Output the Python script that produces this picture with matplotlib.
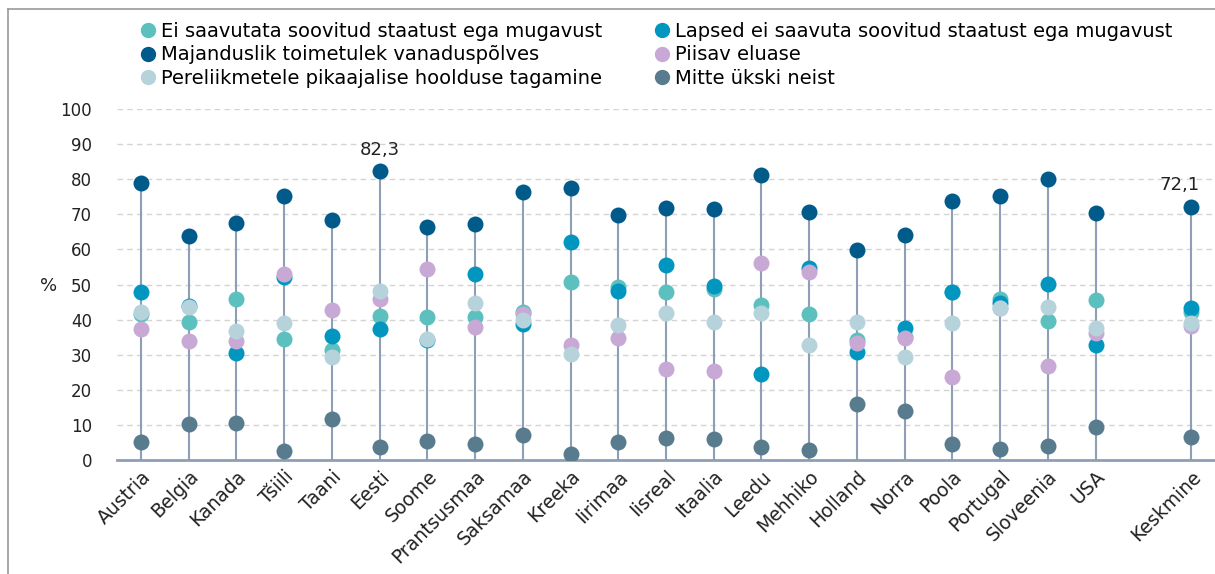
import matplotlib
matplotlib.use('Agg')
import matplotlib.pyplot as plt
from matplotlib.lines import Line2D

# --- andmed (loetud pildilt) ---
countries = ['Austria', 'Belgia', 'Kanada', 'Tšiili', 'Taani', 'Eesti', 'Soome',
             'Prantsusmaa', 'Saksamaa', 'Kreeka', 'Iirimaa', 'Iisreal', 'Itaalia',
             'Leedu', 'Mehhiko', 'Holland', 'Norra', 'Poola', 'Portugal',
             'Sloveenia', 'USA', '', 'Keskmine']

ei_saavutata = [41.6, 39.4, 45.8, 34.4, 31.3, 41.0, 40.6, 40.7, 42.3, 50.8, 49.4, 47.8,
                48.6, 44.2, 41.6, 34.2, 35.0, 48.0, 45.9, 39.7, 45.7, None, 42.3]
lapsed = [47.8, 44.0, 30.4, 52.0, 35.3, 37.4, 34.3, 52.9, 38.7, 62.1, 48.1, 55.6,
          49.7, 24.4, 54.6, 30.8, 37.7, 48.0, 44.8, 50.1, 32.9, None, 43.4]
majanduslik = [79.0, 63.8, 67.4, 75.2, 68.4, 82.3, 66.5, 67.1, 76.3, 77.5, 69.8, 71.9,
               71.4, 81.1, 70.7, 59.9, 64.1, 73.9, 75.2, 80.2, 70.4, None, 72.1]
piisav = [37.3, 33.8, 33.8, 52.9, 42.7, 45.9, 54.4, 38.0, 41.6, 32.8, 34.7, 25.8,
          25.3, 56.2, 53.5, 33.2, 34.7, 23.7, 43.2, 26.9, 36.1, None, 38.3]
pereliikmetele = [42.3, 43.7, 36.8, 39.1, 29.4, 48.1, 34.5, 44.6, 39.9, 30.2, 38.6, 42.0,
                  39.2, 41.9, 32.7, 39.4, 29.3, 39.1, 43.4, 43.7, 37.5, None, 38.9]
mitte = [5.0, 10.3, 10.6, 2.6, 11.6, 3.8, 5.4, 4.7, 7.1, 1.7, 5.2, 6.2,
         5.9, 3.6, 2.9, 16.0, 13.9, 4.5, 3.1, 4.1, 9.4, None, 6.5]

series = [
    ('Ei saavutata soovitud staatust ega mugavust', ei_saavutata, '#5BC0BE'),
    ('Lapsed ei saavuta soovitud staatust ega mugavust', lapsed, '#0096BF'),
    ('Majanduslik toimetulek vanaduspõlves', majanduslik, '#005A8A'),
    ('Piisav eluase', piisav, '#C8A9D5'),
    ('Pereliikmetele pikaajalise hoolduse tagamine', pereliikmetele, '#B6D3DC'),
    ('Mitte ükski neist', mitte, '#587C8E'),
]
labelled = {5: ('82,3', 0), 22: ('72,1', -8)}

plt.rcParams['font.family'] = ['DejaVu Sans']

fig = plt.figure(figsize=(12.15, 5.74), dpi=100)
ax = fig.add_axes([0.0963, 0.1986, 0.9037, 0.6115])

x = list(range(len(countries)))
stem_color = '#8D9FB7'

# varred 0-st kuni suurima vaartuseni
for i in x:
    vals = [s[1][i] for s in series if s[1][i] is not None]
    if vals:
        ax.plot([i, i], [0, max(vals)], color=stem_color, lw=1.5, zorder=2)

handles = {}
for name, vals, col in series:
    xs = [i for i in x if vals[i] is not None]
    ys = [vals[i] for i in xs]
    h, = ax.plot(xs, ys, 'o', color=col, ms=11.5, mec='none', zorder=3, label=name)
    handles[name] = h

for i, (txt, dx) in labelled.items():
    ax.annotate(txt, (i, majanduslik[i]), xytext=(dx, 9), textcoords='offset points',
                ha='center', va='bottom', fontsize=13, color='#222222')

ax.set_ylim(0, 100)
ax.set_xlim(-0.5, len(countries) - 0.5)
ax.set_yticks(range(0, 101, 10))
ax.yaxis.grid(True, ls=(0, (4, 3)), color='#D4D4D4', lw=1)
ax.set_axisbelow(True)
for s in ['left', 'right', 'top']:
    ax.spines[s].set_visible(False)
ax.spines['bottom'].set_color(stem_color)
ax.spines['bottom'].set_linewidth(2)
ax.tick_params(axis='y', length=0, labelsize=12, pad=18, labelcolor='#222222')
ax.tick_params(axis='x', length=0, labelsize=13.5, pad=5, labelcolor='#222222')
ax.set_xticks(x)
ax.set_xticklabels(countries, rotation=45, ha='right', rotation_mode='anchor')
ax.set_ylabel('%', rotation=0, fontsize=13, color='#222222')
ax.yaxis.set_label_coords(-0.062, 0.47)

order = [series[0][0], series[2][0], series[4][0], series[1][0], series[3][0], series[5][0]]
leg_handles = [Line2D([], [], marker='o', ls='', color=handles[n].get_color(), ms=10)
               for n in order]
fig.legend(leg_handles, order, loc='upper left', bbox_to_anchor=(0.098, 0.992), ncol=2,
           frameon=False, prop={'size': 14}, handletextpad=0.05,
           columnspacing=2.5, labelspacing=0.22, handlelength=1.2)

# raam (ainult ules ja vasakule)
fig.add_artist(Line2D([0.0066, 1.0], [0.984, 0.984], transform=fig.transFigure,
                      color='#9A9A9A', lw=1.2))
fig.add_artist(Line2D([0.0066, 0.0066], [0.0, 0.984], transform=fig.transFigure,
                      color='#9A9A9A', lw=1.2))

fig.savefig('out.png', dpi=100)
